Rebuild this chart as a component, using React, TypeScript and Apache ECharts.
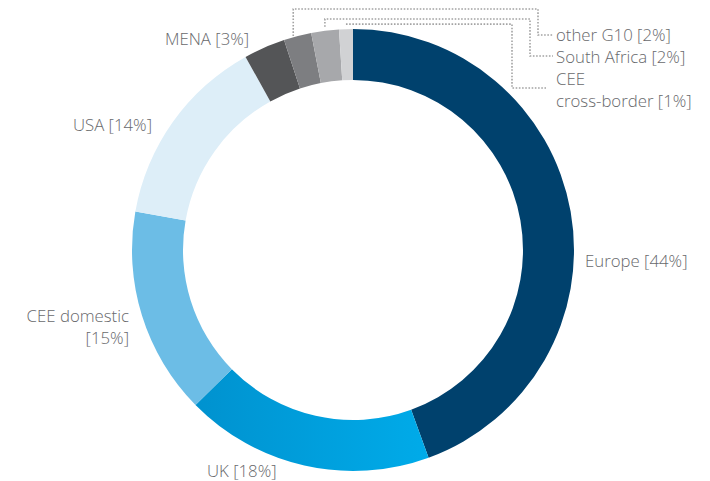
import React, { useEffect, useRef } from "react";
import * as echarts from "echarts";

const names = ["Europe", "UK", "CEE domestic", "USA", "MENA", "other G10", "South Africa", "CEE cross-border"];
const labelNames = ["Europe", "UK", "CEE domestic\n", "USA", "MENA", "other G10", "South Africa", "CEE\ncross-border"];
const values = [44, 18, 15, 14, 3, 2, 2, 1];

const colors: any[] = [
  "#00416d",
  { type: "linear", x: 0, y: 0, x2: 1, y2: 0, colorStops: [{ offset: 0, color: "#0092cf" }, { offset: 1, color: "#00abe9" }] },
  "#6cbde6",
  "#ddeef8",
  "#545557",
  "#7d7e81",
  "#a7a8ab",
  "#d1d2d4",
];

// label layout (position, alignment) per slice
const labelPos: [number, number, string][] = [
  [585, 260, "left"],
  [207, 470, "left"],
  [129, 326, "right"],
  [152, 124, "right"],
  [165, 38, "left"],
  [556, 34, "left"],
  [556, 56, "left"],
  [556, 89, "left"],
];

const CX = 353;
const CY = 250;
const R_OUT = 221;
const R_IN = 170;
const FONT = "'Open Sans', Roboto, sans-serif";
const TEXT_COLOR = "#68696c";

export default function App() {
  const ref = useRef<HTMLDivElement>(null);
  useEffect(() => {
    if (!ref.current) return;
    const chart = echarts.init(ref.current, null, { renderer: "svg" });
    const total = values.reduce((a, b) => a + b, 0);
    const mids: number[] = [];
    let acc = 0;
    values.forEach((v) => {
      mids.push(((acc + v / 2) / total) * Math.PI * 2);
      acc += v;
    });
    const px = (i: number, r: number) => [CX + r * Math.sin(mids[i]), CY - r * Math.cos(mids[i])];

    const p5 = px(5, R_OUT + 1);
    const p6 = px(6, R_OUT + 1);
    const p7 = px(7, R_OUT + 1);
    const lineStyle = { stroke: "#a3a3a3", lineWidth: 1.6, lineDash: [1.6, 1.6], fill: null };
    const leaders = [
      [[p5[0] - 4, p5[1] + 1], [p5[0] - 4, 9], [538, 9], [538, 35], [553, 35]],
      [[p6[0], p6[1] - 3], [p6[0], 19], [530, 19], [530, 56], [553, 56]],
      [[p7[0], p7[1] - 4], [512, p7[1] - 4], [512, 88], [546, 88]],
    ];

    chart.setOption({
      animation: false,
      textStyle: { fontFamily: FONT },
      series: [
        {
          type: "pie",
          center: [CX, CY],
          radius: [R_IN, R_OUT],
          startAngle: 90,
          clockwise: true,
          avoidLabelOverlap: false,
          emphasis: { disabled: true },
          labelLine: { show: false },
          label: {
            show: true,
            color: TEXT_COLOR,
            fontSize: 16.8,
            fontWeight: 300,
            fontFamily: FONT,
            lineHeight: 22,
            formatter: (p: any) => {
              const l = labelNames[p.dataIndex];
              return l + (l.endsWith("\n") ? "" : " ") + "[" + p.value + "%]";
            },
          },
          labelLayout: (params: any) => {
            const lp = labelPos[params.dataIndex];
            return { x: lp[0], y: lp[1], align: lp[2], verticalAlign: "middle" };
          },
          data: names.map((n, i) => ({
            name: n,
            value: values[i],
            itemStyle: { color: colors[i] },
            label: { align: labelPos[i][2], color: TEXT_COLOR },
          })),
        },
      ],
      graphic: leaders.map((pts) => ({
        type: "polyline",
        shape: { points: pts },
        style: lineStyle,
        silent: true,
      })),
    });
    return () => chart.dispose();
  }, []);
  return <div ref={ref} style={{ position: "absolute", left: 0, top: 0, width: 710, height: 481 }} />;
}
